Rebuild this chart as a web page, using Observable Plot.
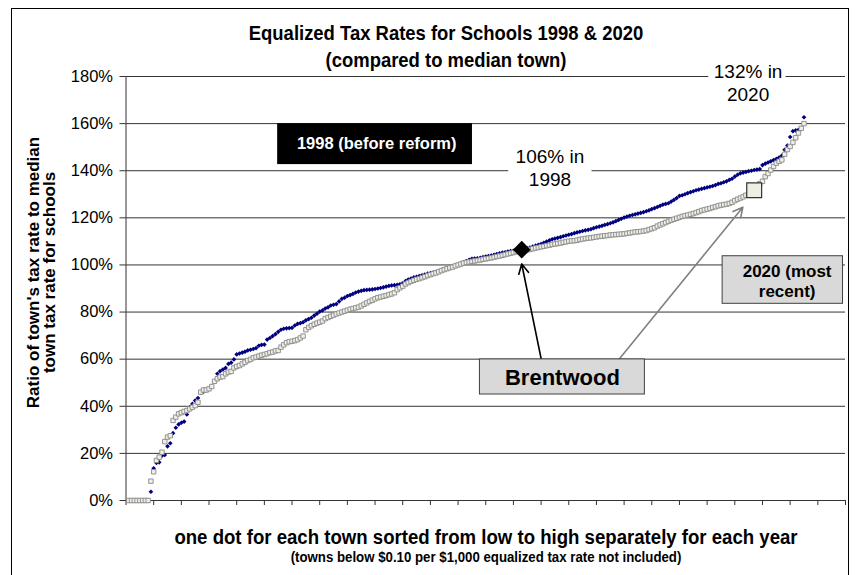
<!DOCTYPE html>
<html><head><meta charset="utf-8">
<script src="https://cdn.jsdelivr.net/npm/d3@7"></script>
<script src="https://cdn.jsdelivr.net/npm/@observablehq/plot@0.6"></script>
<style>
body{margin:0;width:858px;height:575px;overflow:hidden;background:#fff;font-family:"Liberation Sans",Arial,sans-serif;position:relative}
#frame{position:absolute;left:11px;top:8px;width:836px;height:600px;border:1px solid #000;}
#title{position:absolute;left:46px;width:800px;top:19px;text-align:center;font-weight:bold;font-size:20.5px;line-height:27px;z-index:2;transform:scaleX(0.9);transform-origin:400px 0}
#chart{position:absolute;left:0;top:50px;z-index:1}
#caption{position:absolute;left:86px;width:800px;top:526px;text-align:center;font-weight:bold;transform-origin:400px 0}
#caption .l1{font-size:20px;line-height:23px;transform:scaleX(0.93)}
#caption .l2{font-size:14.4px;line-height:16px;transform:scaleX(0.92)}
</style></head>
<body>
<div id="frame"></div>
<div id="title">Equalized Tax Rates for Schools 1998 &amp; 2020<br>(compared to median town)</div>
<div id="chart"></div>
<div id="caption"><div class="l1">one dot for each town sorted from low to high separately for each year</div><div class="l2">(towns below $0.10 per $1,000 equalized tax rate not included)</div></div>
<script>
// town rank (position in sorted order) of the first value of each series
const start1998 = 9;
const start2020 = 1;
// ratio of town's tax rate to median town rate (%), sorted low to high
const values1998 = [
 3.7, 13.7, 16, 16.2, 19, 19.3, 23, 24.3, 28.6, 30.9, 32.3, 33,
 33.5, 36.5, 39.6, 41, 42.4, 43.5, 45.7, 46.2, 46.8, 47.4,
 48.4, 50.6, 53.8, 54.9, 55.6, 56.3, 58, 58.5, 59.9, 62,
 62.4, 62.8, 63.2, 63.7, 64, 64.3, 64.7, 65.7, 66.1, 66.2,
 68.3, 69, 69.8, 70.6, 71.6, 72.5, 72.9, 73.1, 73.2, 73.3,
 74.3, 75, 75.3, 75.7, 76.5, 77, 77.6, 78.5, 79.3, 80.2,
 80.7, 81.5, 82, 82.8, 83.1, 83.4, 84.5, 85.6, 86.1, 86.8,
 87.2, 87.7, 88.3, 88.7, 89, 89.3, 89.4, 89.5, 89.6, 89.8,
 90, 90.2, 90.5, 90.8, 91.1, 91.3, 91.4, 91.6, 91.8, 92.2,
 93.1, 93.8, 94.2, 94.7, 95, 95.3, 95.6, 95.9, 96.3, 96.5,
 96.8, 97, 97.3, 97.8, 98.2, 98.4, 98.9, 99.3, 99.6, 100.1,
 100.6, 101.1, 101.6, 102.2, 102.6, 102.7, 102.8, 103, 103.3, 103.6,
 103.8, 104, 104.3, 104.6, 104.9, 105.2, 105.4, 105.7, 105.9, 106,
 106.1, 106.2, 106.3, 106.7, 107.1, 107.4, 107.8, 108.2, 108.5, 108.9,
 109.4, 109.9, 110.4, 110.9, 111.2, 111.5, 111.8, 112.2, 112.5, 112.8,
 113.1, 113.5, 113.8, 114.1, 114.4, 114.7, 114.9, 115.2, 115.6, 116,
 116.3, 116.6, 117, 117.3, 117.7, 118.1, 118.6, 119.1, 119.6, 120.1,
 120.5, 120.9, 121.2, 121.5, 121.8, 122.1, 122.4, 122.8, 123.2, 123.7,
 124.1, 124.6, 125.1, 125.6, 125.9, 126.2, 126.9, 127.6, 128.4, 129.3,
 129.6, 130, 130.5, 130.9, 131.3, 131.7, 132, 132.3, 132.6, 132.9,
 133.2, 133.5, 133.9, 134.4, 134.7, 135.1, 135.5, 136.1, 136.6, 137.5,
 138.3, 138.9, 139.2, 139.5, 139.8, 140, 140.3, 140.5, 140.7, 142.4,
 143, 143.5, 144, 144.5, 145, 145.6, 146.4, 148.9, 150.7, 154.3,
 156.8, 157.1, 157.4, 157.8, 162.7
];
const values2020 = [
 0, 0, 0, 0, 0, 0, 0, 0,
 8.2, 12.2, 17, 18.4, 20.5, 25, 26.9, 27.5, 34, 35.4, 36.8, 37.3,
 37.8, 38.2, 38.9, 39.6, 40.3, 41.7, 46, 46.9, 46.9, 47.4,
 48.4, 50.6, 51.7, 52.4, 52.6, 53.8, 54.5, 54.8, 56.3, 56.9,
 57.3, 58, 58.7, 59.4, 59.9, 60.6, 60.9, 61.3, 61.7, 62,
 62.3, 62.8, 63, 63.5, 63.7, 65.1, 66.1, 67, 67.4, 67.6,
 67.9, 68.3, 69, 69.8, 72.5, 73.5, 74.2, 74.8, 75.3, 75.7,
 76.2, 77.2, 77.7, 78.2, 78.7, 79.2, 79.6, 80, 80.4, 80.8,
 81.2, 81.5, 81.8, 82.1, 82.6, 83.3, 83.9, 84.5, 85, 85.6,
 86.1, 86.4, 86.7, 87, 87.4, 87.7, 88.2, 89.5, 90.3, 91,
 91.9, 92.5, 93, 93.5, 93.9, 94.2, 94.6, 95, 95.5, 95.9,
 96.3, 96.6, 97.1, 97.6, 98, 98.4, 98.8, 99.1, 99.6, 100,
 100.4, 100.8, 101.1, 101.3, 101.5, 101.7, 101.9, 102.1, 102.4, 102.6,
 102.8, 103, 103.3, 103.6, 103.8, 104.1, 104.4, 104.7, 105, 105.3,
 105.6, 105.8, 106, 106.2, 106.4, 106.6, 106.9, 107.2, 107.4, 107.7,
 107.9, 108.2, 108.4, 108.7, 108.9, 109.1, 109.3, 109.6, 109.8, 110.1,
 110.2, 110.3, 110.5, 110.8, 111, 111.2, 111.4, 111.5, 111.7, 111.9,
 112.1, 112.2, 112.4, 112.5, 112.7, 112.8, 112.9, 113, 113.1, 113.2,
 113.4, 113.6, 113.8, 114, 114.1, 114.2, 114.4, 114.6, 115, 115.4,
 115.8, 116.5, 117, 117.5, 118, 118.5, 119, 119.4, 119.8, 120.2,
 120.6, 120.9, 121.2, 121.5, 121.8, 122.2, 122.6, 123.1, 123.4, 123.7,
 124, 124.4, 124.7, 125.1, 125.4, 125.6, 125.8, 126.1, 126.6, 127.3,
 127.9, 128.4, 128.9, 129.6, 130.2, 130.8, 131.8, 133.2, 134.5, 135.5,
 137.5, 138.8, 140.3, 141.8, 143.2, 144, 144.6, 147, 149, 150.3,
 152, 154, 156, 158, 160
];
// Brentwood: rank and ratio in each year
const brentwoodYears = ["1998", "2020"];
const brentwoodRank = [143, 227];
const brentwoodRatio = [106.5, 131.7];
// axis ticks
const yTicks = [0, 20, 40, 60, 80, 100, 120, 140, 160, 180];
const xTicks = [0, 10, 20, 30, 40, 50, 60, 70, 80, 90, 100, 110, 120, 130, 140, 150, 160, 170, 180, 190, 200, 210, 220, 230, 240, 250, 260];

const d1998 = values1998.map((v, k) => ({rank: start1998 + k, ratio: v}));
const d2020 = values2020.map((v, k) => ({rank: start2020 + k, ratio: v}));
const brent = brentwoodYears.map((y, k) => ({year: y, rank: brentwoodRank[k], ratio: brentwoodRatio[k]}));

// annotation placements (data units)
const whiteBoxes = [
  {x1: 138.3, x2: 168.4, y1: 132, y2: 152},
  {x1: 210.6, x2: 238.5, y1: 168.5, y2: 187}
];
const darkBox = [{x1: 54.8, x2: 125.2, y1: 142.6, y2: 160}];
const grayBoxes = [
  {x1: 215.6, x2: 259.1, y1: 83.5, y2: 103.7},
  {x1: 127.9, x2: 187.5, y1: 45.0, y2: 59.9}
];
const arrows = [
  {x1: 150.3, y1: 58.6, x2: 143.0, y2: 100.4, c: "#000"},
  {x1: 177.0, y1: 58.3, x2: 222.9, y2: 124.5, c: "#808080"}
];
const plainNotes = [
  {text: "106% in\n1998", x: 153.2, y: 141.6},
  {text: "132% in\n2020", x: 224.8, y: 177.7}
];

const chart = Plot.plot({
  width: 858,
  height: 474,
  marginLeft: 125.5,
  marginRight: 13,
  marginTop: 26,
  marginBottom: 24,
  style: {background: "transparent", overflow: "visible", fontFamily: "'Liberation Sans', Arial, sans-serif"},
  x: {domain: [0, 260]},
  y: {domain: [0, 180]},
  marks: [
    Plot.gridY(yTicks.filter(t => t > 0), {stroke: "#000", strokeOpacity: 0.8}),
    Plot.rect(whiteBoxes, {x1: "x1", x2: "x2", y1: "y1", y2: "y2", fill: "white"}),
    Plot.axisY({ticks: yTicks, tickFormat: d => d + "%", tickSize: 6, tickPadding: 7, fontSize: 16.5, label: null, stroke: "#333"}),
    Plot.axisX({ticks: xTicks, tickFormat: () => "", tickSize: 5, label: null, stroke: "#333"}),
    Plot.ruleY([0], {stroke: "#333"}),
    Plot.ruleX([0], {stroke: "#333"}),
    Plot.text(["Ratio of town's tax rate to median\ntown tax rate for schools"], {frameAnchor: "left", textAnchor: "middle", rotate: -90, dx: -84.5, dy: -16, fontWeight: "bold", fontSize: 17, lineHeight: 0.96}),
    Plot.dot(d1998, {x: "rank", y: "ratio", symbol: "diamond2", r: 2.1, fill: "#000080"}),
    Plot.dot(d2020, {x: "rank", y: "ratio", symbol: "square", r: 2.5, fill: "#efefe6", stroke: "#8a8a8a", strokeWidth: 0.9}),
    Plot.dot(brent.filter(d => d.year === "1998"), {x: "rank", y: "ratio", symbol: "diamond2", r: 8, fill: "#000"}),
    Plot.dot(brent.filter(d => d.year === "2020"), {x: "rank", y: "ratio", symbol: "square", r: 8.4, fill: "#eeeee2", stroke: "#333", strokeWidth: 1.2}),
    Plot.arrow(arrows, {x1: "x1", y1: "y1", x2: "x2", y2: "y2", stroke: d => d.c, strokeWidth: 1.6, headLength: 10, headAngle: 55}),
    Plot.rect(darkBox, {x1: "x1", x2: "x2", y1: "y1", y2: "y2", fill: "#000"}),
    Plot.rect(grayBoxes, {x1: "x1", x2: "x2", y1: "y1", y2: "y2", fill: "#d9d9d9", stroke: "#404040", strokeWidth: 1}),
    Plot.text(["1998 (before reform)"], {x: 90.6, y: 151.3, fill: "white", fontWeight: "bold", fontSize: 16.5}),
    Plot.text(["2020 (most\nrecent)"], {x: 238.9, y: 93.3, fill: "#000", fontWeight: "bold", fontSize: 17, lineHeight: 1.15}),
    Plot.text(["Brentwood"], {x: 157.7, y: 52.2, fill: "#000", fontWeight: "bold", fontSize: 22}),
    Plot.text(plainNotes, {x: "x", y: "y", text: "text", fontSize: 19, lineHeight: 1.2, fill: "#000"})
  ]
});
document.getElementById("chart").appendChild(chart);
</script>
</body></html>
